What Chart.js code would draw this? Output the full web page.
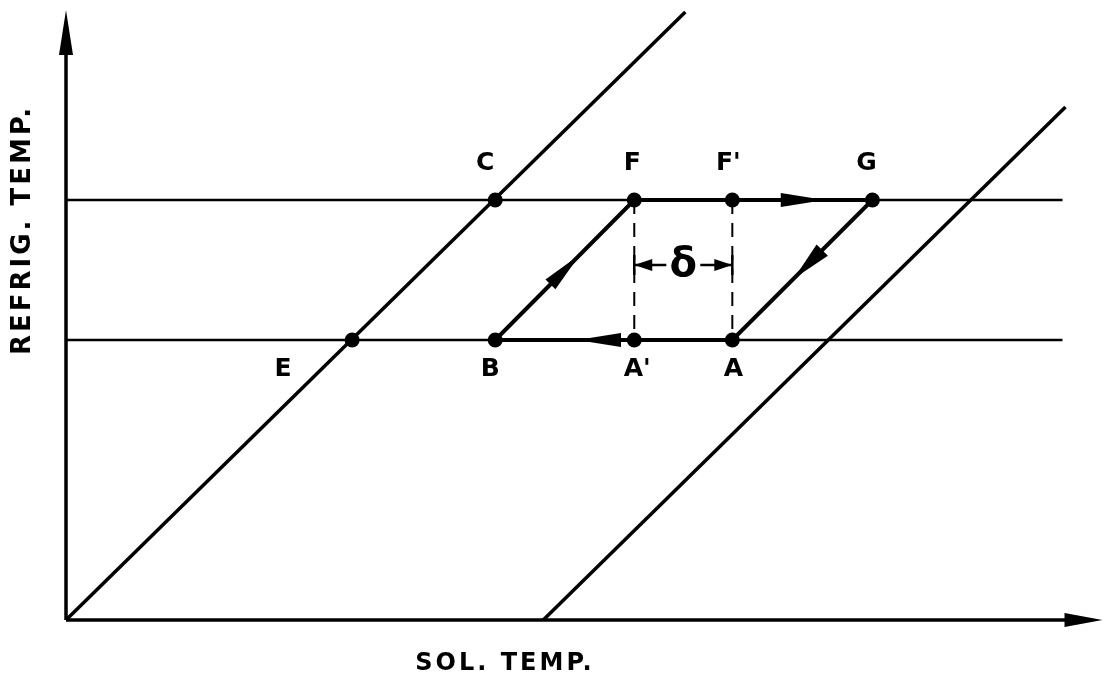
<!DOCTYPE html>
<html>
<head>
<meta charset="utf-8">
<script src="https://cdn.jsdelivr.net/npm/chart.js@4"></script>
<style>
  html, body { margin: 0; padding: 0; background: #fff; }
  #wrap { width: 1104px; height: 680px; }
</style>
</head>
<body>
<div id="wrap"><canvas id="cycle" width="1104" height="680"></canvas></div>
<script>
// state points on the two refrigerant temperature levels
const pointNames = ["C", "F", "F'", "G", "E", "B", "A'", "A"];
const pointSol = [42.9, 56.8, 66.6, 80.6, 28.6, 42.9, 56.8, 66.6];
const pointRefrig = [42, 42, 42, 42, 28, 28, 28, 28];

// upper and lower refrigerant temperatures
const levelRefrig = [42, 28];
const levelSolRange = [0, 99.6];

// the two sloped lines
const leftLineSol = [0, 61.9];
const leftLineRefrig = [0, 60.8];
const rightLineSol = [47.7, 99.9];
const rightLineRefrig = [0, 51.3];

// cycle B -> F -> G -> A -> B
const cycleSol = [42.9, 56.8, 80.6, 66.6, 42.9];
const cycleRefrig = [28, 42, 42, 28, 28];

// delta marker height
const deltaRefrig = 35.5;

// axis extents (arrow tips)
const solMax = 103;
const solAxisEnd = 103.6;
const refrigMax = 61;

const pts = (xs, ys) => xs.map((x, i) => ({ x: x, y: ys[i] }));

// label offsets in pixels, same order as pointNames
const labelOffsets = [[-10, -37], [-2, -37], [-4, -37], [-6, -37],
                      [-69, 29], [-5, 29], [3, 29], [1, 29]];

// arrowheads along segments: [from index, to index in cycle, fraction, length, half width]
const cycleArrows = [
  [0, 1, 0.61, 42, 7],
  [1, 2, 0.80, 44, 7],
  [2, 3, 0.56, 40, 8],
  [3, 4, 0.655, 44, 7]
];

function head(ctx, tx, ty, dx, dy, len, half) {
  const n = Math.hypot(dx, dy);
  const ux = dx / n, uy = dy / n;
  const bx = tx - ux * len, by = ty - uy * len;
  ctx.beginPath();
  ctx.moveTo(tx, ty);
  ctx.lineTo(bx - uy * half, by + ux * half);
  ctx.lineTo(bx + uy * half, by - ux * half);
  ctx.closePath();
  ctx.fill();
}

const annotate = {
  id: 'annotate',
  afterDatasetsDraw(chart) {
    const ctx = chart.ctx;
    const xs = chart.scales.x, ys = chart.scales.y;
    ctx.save();
    ctx.fillStyle = '#000';
    ctx.strokeStyle = '#000';

    // axis arrowheads
    head(ctx, xs.getPixelForValue(solAxisEnd), ys.getPixelForValue(0), 1, 0, 38, 7);
    head(ctx, xs.getPixelForValue(0), ys.getPixelForValue(refrigMax), 0, -1, 45, 7);

    // direction arrows on the cycle
    cycleArrows.forEach(([a, b, t, len, half]) => {
      const x0 = xs.getPixelForValue(cycleSol[a]), y0 = ys.getPixelForValue(cycleRefrig[a]);
      const x1 = xs.getPixelForValue(cycleSol[b]), y1 = ys.getPixelForValue(cycleRefrig[b]);
      head(ctx, x0 + (x1 - x0) * t, y0 + (y1 - y0) * t, x1 - x0, y1 - y0, len, half);
    });

    // delta dimension between F/A' and F'/A
    const dl = xs.getPixelForValue(pointSol[1]);
    const dr = xs.getPixelForValue(pointSol[2]);
    const dy = ys.getPixelForValue(deltaRefrig);
    const dc = (dl + dr) / 2;
    ctx.lineWidth = 2.5;
    ctx.beginPath();
    ctx.moveTo(dl, dy); ctx.lineTo(dc - 17, dy);
    ctx.moveTo(dr, dy); ctx.lineTo(dc + 17, dy);
    ctx.moveTo(dl, dy - 10); ctx.lineTo(dl, dy + 10);
    ctx.moveTo(dr, dy - 10); ctx.lineTo(dr, dy + 10);
    ctx.stroke();
    head(ctx, dl, dy, -1, 0, 18, 6);
    head(ctx, dr, dy, 1, 0, 18, 6);
    ctx.font = 'bold 40px "DejaVu Sans"';
    ctx.textAlign = 'center';
    ctx.textBaseline = 'middle';
    ctx.fillText('δ', dc, dy + 1);

    // point letters
    ctx.font = 'bold 25px "DejaVu Sans"';
    pointNames.forEach((name, i) => {
      const px = xs.getPixelForValue(pointSol[i]) + labelOffsets[i][0];
      const py = ys.getPixelForValue(pointRefrig[i]) + labelOffsets[i][1];
      ctx.fillText(name, px, py);
    });

    // axis titles
    ctx.font = 'bold 24px "DejaVu Sans"';
    ctx.letterSpacing = '3px';
    ctx.fillText('SOL. TEMP.', 505, 664);
    ctx.translate(23, 230);
    ctx.rotate(-Math.PI / 2);
    ctx.font = 'bold 26px "DejaVu Sans"';
    ctx.letterSpacing = '3px';
    ctx.fillText('REFRIG. TEMP.', 0, 0);
    ctx.restore();
  }
};

const thin = { borderColor: '#000', borderWidth: 2.5, pointRadius: 0, showLine: true, clip: false };

new Chart(document.getElementById('cycle'), {
  type: 'scatter',
  data: {
    datasets: [
      { ...thin, data: pts(levelSolRange, [levelRefrig[0], levelRefrig[0]]) },
      { ...thin, data: pts(levelSolRange, [levelRefrig[1], levelRefrig[1]]) },
      { ...thin, borderWidth: 2, borderDash: [14, 9], data: pts([pointSol[1], pointSol[6]], [pointRefrig[1], pointRefrig[6]]) },
      { ...thin, borderWidth: 2, borderDash: [14, 9], data: pts([pointSol[2], pointSol[7]], [pointRefrig[2], pointRefrig[7]]) },
      { ...thin, borderWidth: 3.5, data: pts(leftLineSol, leftLineRefrig) },
      { ...thin, borderWidth: 3.5, data: pts(rightLineSol, rightLineRefrig) },
      { ...thin, borderWidth: 3.5, data: pts([0, solAxisEnd - 2], [0, 0]) },
      { ...thin, borderWidth: 3.5, data: pts([0, 0], [0, refrigMax - 2]) },
      { ...thin, borderWidth: 4, data: pts(cycleSol, cycleRefrig) },
      {
        data: pts(pointSol, pointRefrig),
        pointRadius: 7.5,
        pointBackgroundColor: '#000',
        pointBorderWidth: 0,
        showLine: false,
        clip: false
      }
    ]
  },
  options: {
    responsive: false,
    animation: false,
    events: [],
    layout: { padding: { left: 66, right: 2, top: 10, bottom: 60 } },
    plugins: { legend: { display: false }, tooltip: { enabled: false } },
    scales: {
      x: { type: 'linear', min: 0, max: solMax, display: false },
      y: { type: 'linear', min: 0, max: refrigMax, display: false }
    }
  },
  plugins: [annotate]
});
</script>
</body>
</html>
